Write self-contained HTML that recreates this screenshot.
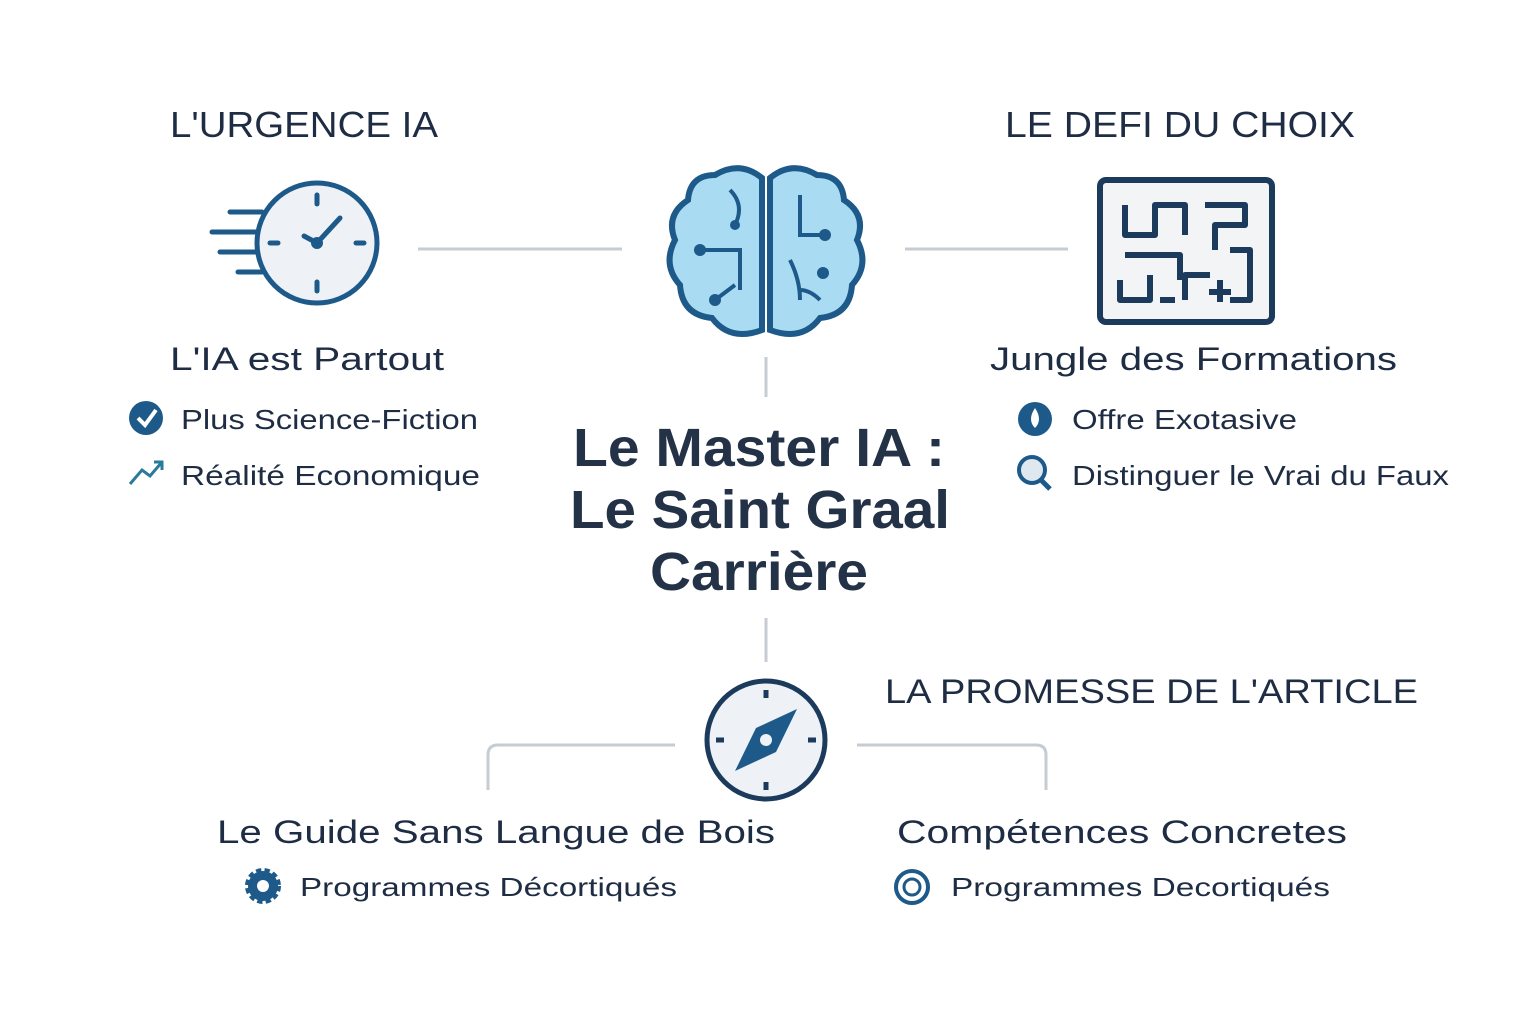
<!DOCTYPE html>
<html><head><meta charset="utf-8"><style>
html,body{margin:0;padding:0;background:#fff;}
svg{display:block;font-family:"Liberation Sans",sans-serif;}
</style></head><body>
<svg width="1536" height="1024" viewBox="0 0 1536 1024" xmlns="http://www.w3.org/2000/svg">
<rect width="1536" height="1024" fill="#fff"/>
<g fill="#1f2d44">
<text x="170" y="137" font-size="36" textLength="268" lengthAdjust="spacingAndGlyphs">L'URGENCE IA</text>
<text x="1005" y="137" font-size="36" textLength="350" lengthAdjust="spacingAndGlyphs">LE DEFI DU CHOIX</text>
<text x="885" y="703" font-size="34" textLength="533" lengthAdjust="spacingAndGlyphs">LA PROMESSE DE L'ARTICLE</text>
<text x="170" y="370" font-size="32" textLength="274" lengthAdjust="spacingAndGlyphs">L'IA est Partout</text>
<text x="990" y="370" font-size="32" textLength="407" lengthAdjust="spacingAndGlyphs">Jungle des Formations</text>
<text x="181" y="429" font-size="28" textLength="297" lengthAdjust="spacingAndGlyphs">Plus Science-Fiction</text>
<text x="181" y="485" font-size="28" textLength="299" lengthAdjust="spacingAndGlyphs">Réalité Economique</text>
<text x="1072" y="429" font-size="28" textLength="225" lengthAdjust="spacingAndGlyphs">Offre Exotasive</text>
<text x="1072" y="485" font-size="28" textLength="377" lengthAdjust="spacingAndGlyphs">Distinguer le Vrai du Faux</text>
<text x="217" y="843" font-size="32" textLength="558" lengthAdjust="spacingAndGlyphs">Le Guide Sans Langue de Bois</text>
<text x="897" y="843" font-size="32" textLength="450" lengthAdjust="spacingAndGlyphs">Compétences Concretes</text>
<text x="300" y="896" font-size="26" textLength="377" lengthAdjust="spacingAndGlyphs">Programmes Décortiqués</text>
<text x="951" y="896" font-size="26" textLength="379" lengthAdjust="spacingAndGlyphs">Programmes Decortiqués</text>
<g font-size="54" font-weight="bold" fill="#243247">
<text x="573" y="466" textLength="372" lengthAdjust="spacingAndGlyphs">Le Master IA :</text>
<text x="570" y="528" textLength="380" lengthAdjust="spacingAndGlyphs">Le Saint Graal</text>
<text x="650" y="590" textLength="218" lengthAdjust="spacingAndGlyphs">Carrière</text>
</g>
</g>
<g stroke="#c5ccd3" stroke-width="3" fill="none">
<line x1="418" y1="249" x2="622" y2="249"/>
<line x1="905" y1="249" x2="1068" y2="249"/>
<line x1="766" y1="357" x2="766" y2="397"/>
<line x1="766" y1="618" x2="766" y2="662"/>
<path d="M675 745 H498 Q488 745 488 755 V790"/>
<path d="M857 745 H1036 Q1046 745 1046 755 V790"/>
</g>
<g stroke="#1d5a8a" stroke-width="5" fill="none" stroke-linecap="round">
<circle cx="317" cy="243" r="60" fill="#eef2f6"/>
<line x1="230" y1="212" x2="262" y2="212"/>
<line x1="212" y1="232" x2="258" y2="232"/>
<line x1="220" y1="252" x2="257" y2="252"/>
<line x1="238" y1="272" x2="262" y2="272"/>
<line x1="317" y1="243" x2="340" y2="218"/>
<line x1="317" y1="243" x2="304" y2="236"/>
<line x1="317" y1="195" x2="317" y2="204"/><line x1="317" y1="282" x2="317" y2="291"/>
<line x1="270" y1="243" x2="278" y2="243"/><line x1="356" y1="243" x2="364" y2="243"/>
</g>
<circle cx="317" cy="243" r="6" fill="#1d5a8a"/>
<g stroke="#1d5a8a" stroke-width="6" fill="#a9dcf2">
<path d="M762 178 Q740 160 715 175 Q690 175 688 200 Q665 215 675 240 Q662 265 680 285 Q682 315 712 318 Q730 342 762 330 Z"/>
<path d="M770 178 Q792 160 817 175 Q842 175 844 200 Q867 215 857 240 Q870 265 852 285 Q850 315 820 318 Q802 342 770 330 Z"/>
</g>
<g stroke="#1d5a8a" stroke-width="4" fill="none">
<path d="M730 190 Q745 205 735 225 M700 250 H740 V290 M715 300 L735 285 M800 195 V235 H825 M790 260 Q800 280 800 300 M820 300 Q810 290 800 290"/>
</g>
<g fill="#1d5a8a"><circle cx="700" cy="250" r="6"/><circle cx="715" cy="300" r="6"/><circle cx="825" cy="235" r="6"/><circle cx="823" cy="273" r="6"/><circle cx="735" cy="225" r="5"/></g>
<g stroke="#1c3a5c" stroke-width="6" fill="none" stroke-linejoin="round">
<rect x="1100" y="180" width="172" height="142" rx="6" fill="#f2f4f6"/>
<path d="M1125 205 V235 H1155 V205 H1185 V235 M1205 205 H1245 V225 H1215 V250 M1125 255 H1180 V280 M1230 250 H1250 V300 H1230 M1120 280 V300 H1150 V275 M1185 300 V275 H1210 M1160 300 H1175"/>
<path d="M1220 280 V302 M1209 292 H1231"/>
</g>
<g stroke="#1c3a5c" stroke-width="5" fill="none">
<circle cx="766" cy="740" r="59" fill="#eef2f6"/>
<line x1="766" y1="690" x2="766" y2="698"/><line x1="766" y1="782" x2="766" y2="790"/>
<line x1="716" y1="740" x2="724" y2="740"/><line x1="808" y1="740" x2="816" y2="740"/>
</g>
<path d="M797 709 L776 752 L735 771 L756 728 Z" fill="#1d5a8a"/>
<circle cx="766" cy="740" r="6" fill="#eef2f6"/>
<circle cx="146" cy="418" r="17" fill="#1d5a8a"/>
<path d="M138 418 L145 425 L156 410" stroke="#fff" stroke-width="4" fill="none"/>
<path d="M130 484 L142 470 L150 476 L162 462 M154 462 H162 V470" stroke="#2a7a9a" stroke-width="3" fill="none"/>
<circle cx="1035" cy="419" r="17" fill="#1d5a8a"/>
<path d="M1035 408 Q1043 420 1035 428 Q1027 420 1035 408Z" fill="#fff"/>
<circle cx="1032" cy="470" r="13" fill="#dfe8ef" stroke="#1d5a8a" stroke-width="4"/>
<line x1="1041" y1="480" x2="1050" y2="489" stroke="#1d5a8a" stroke-width="5"/>
<circle cx="263" cy="886" r="15" fill="#1d5a8a" stroke="#1d5a8a" stroke-width="6" stroke-dasharray="5 3"/>
<circle cx="263" cy="886" r="6" fill="#fff"/>
<circle cx="912" cy="887" r="16" fill="none" stroke="#1d5a8a" stroke-width="4"/>
<circle cx="912" cy="887" r="8" fill="none" stroke="#1d5a8a" stroke-width="3"/>
</svg>
</body></html>
